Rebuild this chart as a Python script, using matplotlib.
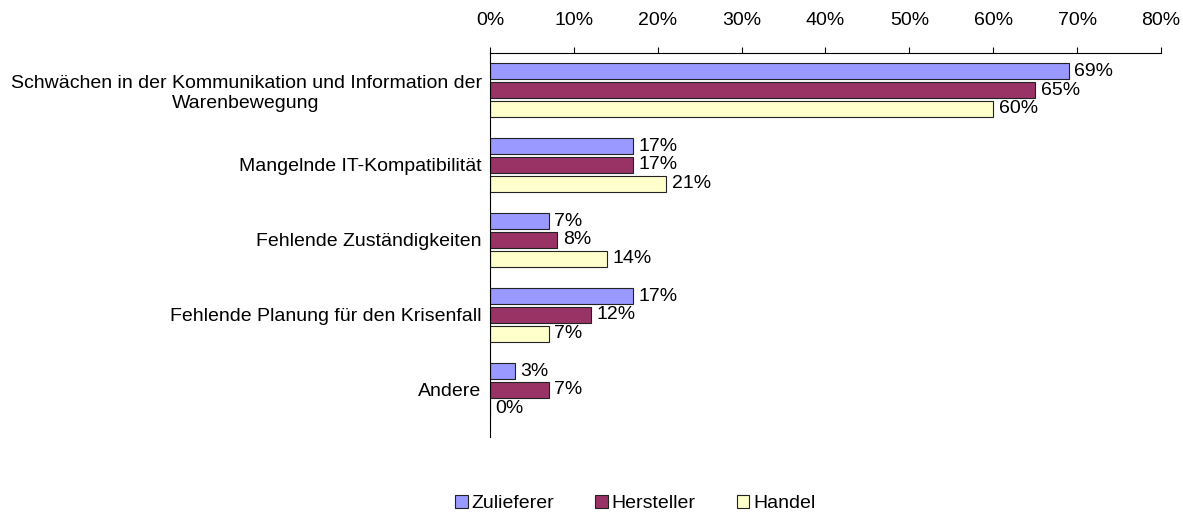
import matplotlib.pyplot as plt
import numpy as np
from matplotlib.ticker import PercentFormatter

plt.rcParams['font.family'] = ['Liberation Sans', 'DejaVu Sans']
plt.rcParams['font.size'] = 14

categories = [
    "Schwächen in der Kommunikation und Information der\nWarenbewegung",
    "Mangelnde IT-Kompatibilität",
    "Fehlende Zuständigkeiten",
    "Fehlende Planung für den Krisenfall",
    "Andere",
]
zulieferer = [69, 17, 7, 17, 3]
hersteller = [65, 17, 8, 12, 7]
handel = [60, 21, 14, 7, 0]

series = [
    ("Zulieferer", zulieferer, "#9999FF"),
    ("Hersteller", hersteller, "#993366"),
    ("Handel", handel, "#FFFFCC"),
]

fig = plt.figure(figsize=(11.83, 5.12), dpi=100)
ax = fig.add_axes([0.4142, 0.1465, 0.5672, 0.75])

y = np.arange(len(categories))
offsets = [-0.25, 0.0, 0.25]
for (name, vals, color), off in zip(series, offsets):
    bars = ax.barh(y + off, vals, height=0.214, color=color, edgecolor="#222222",
                   linewidth=0.8, label=name)
    for b, v in zip(bars, vals):
        ax.annotate(f"{v}%", (v, b.get_y() + b.get_height() / 2),
                    xytext=(4, 0), textcoords="offset points",
                    va="center", ha="left")

ax.set_xlim(0, 80)
ax.set_ylim(4.63, -0.494)
ax.set_xticks(range(0, 81, 10))
ax.xaxis.set_major_formatter(PercentFormatter(decimals=0))
ax.xaxis.tick_top()
ax.tick_params(axis="x", length=4, width=0.8, pad=13)
ax.set_yticks(y)
ax.set_yticklabels(categories, multialignment="center")
ax.tick_params(axis="y", length=0, pad=6)
for s in ["right", "bottom"]:
    ax.spines[s].set_visible(False)
ax.spines["left"].set_linewidth(0.8)
ax.spines["top"].set_linewidth(0.8)

fig.legend(loc="center", bbox_to_anchor=(0.537, 0.017), ncol=3, frameon=False,
           handlelength=0.65, handleheight=0.65, handletextpad=0.2,
           columnspacing=2.1, borderpad=0)

fig.savefig("out.png", dpi=100)
